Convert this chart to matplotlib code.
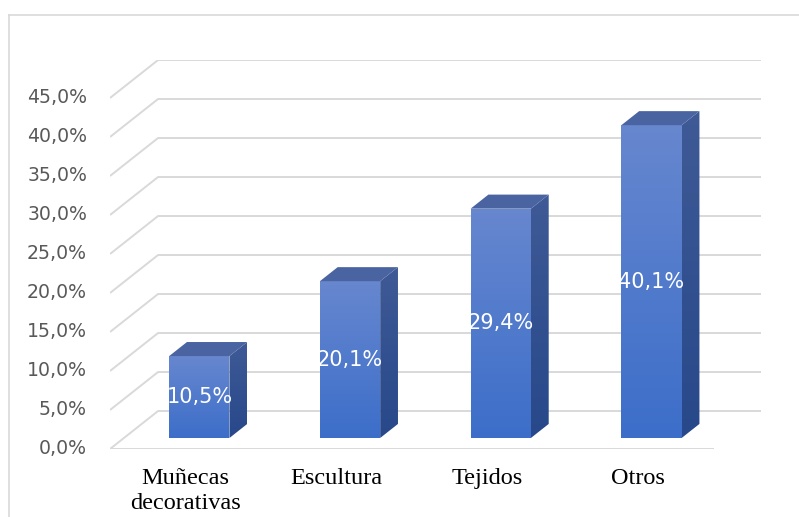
import numpy as np
import matplotlib.pyplot as plt
from matplotlib.patches import Polygon
from matplotlib.lines import Line2D
from matplotlib.colors import LinearSegmentedColormap

# Data
categories = ["Muñecas\ndecorativas", "Escultura", "Tejidos", "Otros"]
shares = [10.5, 20.1, 29.4, 40.1]
ticks = [0, 5, 10, 15, 20, 25, 30, 35, 40, 45]
tick_labels = ["0,0%", "5,0%", "10,0%", "15,0%", "20,0%", "25,0%",
               "30,0%", "35,0%", "40,0%", "45,0%"]
value_labels = ["10,5%", "20,1%", "29,4%", "40,1%"]

W, H = 799, 517
GRID = "#d9d9d9"

# oblique depth of the floor (in data units) and the bar slab inside it
DEPTH_X = 0.319
DEPTH_Y = 4.87
Z0, Z1 = 0.29, 0.66
BAR_W = 0.40


def proj(x, y, z):
    return x + z * DEPTH_X, y + z * DEPTH_Y


fig = plt.figure(figsize=(W / 100, H / 100), dpi=100)
ax = fig.add_axes([110 / W, (H - 449) / H, (761 - 110) / W, (449 - 60) / H])
ax.set_xlim(-0.5, len(categories) - 0.5 + DEPTH_X)
ax.set_ylim(0, ticks[-1] + DEPTH_Y)
ax.axis("off")

x0, x1 = -0.5, len(categories) - 0.5

# gridlines: slanted side wall + back wall
for t, lab in zip(ticks, tick_labels):
    bx, by = proj(x0, t, 1)
    ax.plot([x0, bx, x1 + DEPTH_X], [t, by, by], color=GRID, lw=1.4,
            solid_capstyle="butt", zorder=1)
    ax.annotate(lab, (x0, t), xytext=(-23, 0), textcoords="offset pixels",
                ha="right", va="center", fontsize=13.6, color="#595959",
                family="DejaVu Sans")

# front edge of the floor
ax.plot([x0, x1], [0, 0], color=GRID, lw=1.4, zorder=1)

front_cmap = LinearSegmentedColormap.from_list("front", ["#3c6ec9", "#6787cf"])
side_cmap = LinearSegmentedColormap.from_list("side", ["#27488a", "#3f5a96"])
grad = np.linspace(0, 1, 256).reshape(-1, 1)

for i, (v, lab) in enumerate(zip(shares, value_labels)):
    l, r = i - BAR_W / 2, i + BAR_W / 2
    front = [proj(l, 0, Z0), proj(r, 0, Z0), proj(r, v, Z0), proj(l, v, Z0)]
    side = [proj(r, 0, Z0), proj(r, 0, Z1), proj(r, v, Z1), proj(r, v, Z0)]
    top = [proj(l, v, Z0), proj(r, v, Z0), proj(r, v, Z1), proj(l, v, Z1)]

    for verts, cmap in ((front, front_cmap), (side, side_cmap)):
        poly = Polygon(verts, closed=True, facecolor="none", edgecolor="none")
        ax.add_patch(poly)
        xs, ys = zip(*verts)
        img = ax.imshow(grad, cmap=cmap, origin="lower", aspect="auto",
                        extent=(min(xs), max(xs), min(ys), max(ys)), zorder=3)
        img.set_clip_path(poly)
    ax.add_patch(Polygon(top, closed=True, facecolor="#4a64a2",
                         edgecolor="none", zorder=3))

    cx, cy = proj(i, v / 2, Z0)
    ax.text(cx, cy, lab, ha="center", va="center", color="white",
            fontsize=15, family="DejaVu Sans", zorder=4)

    ax.annotate(categories[i], (i, 0), xytext=(0, -19),
                textcoords="offset pixels", ha="center", va="top",
                fontsize=17.5, family="Liberation Serif", color="black",
                linespacing=1.28)

# chart frame
fig.add_artist(Line2D([9 / W, 1], [1 - 15 / H, 1 - 15 / H], color=GRID,
                      lw=1.2, transform=fig.transFigure))
fig.add_artist(Line2D([9 / W, 9 / W], [0, 1 - 15 / H], color=GRID,
                      lw=1.2, transform=fig.transFigure))

fig.savefig("out.png", dpi=100)
